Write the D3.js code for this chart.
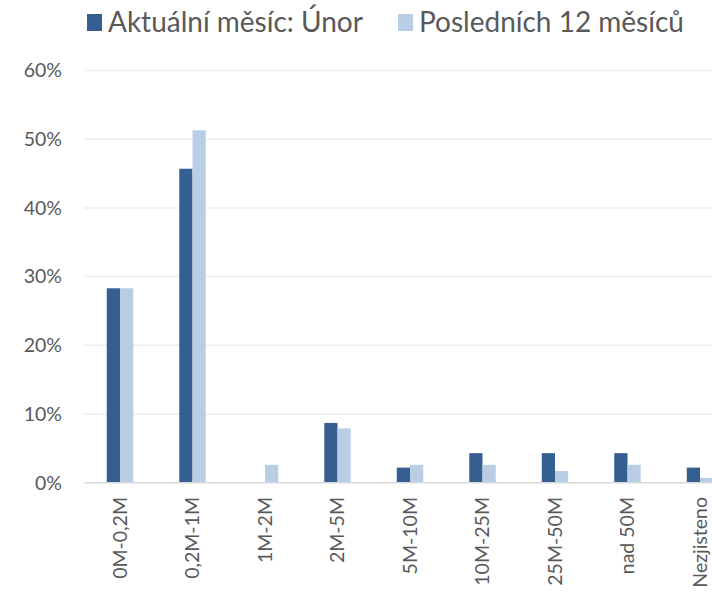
<!DOCTYPE html>
<html>
<head>
<meta charset="utf-8">
<script src="https://cdn.jsdelivr.net/npm/d3@7"></script>
<style>
  body { margin: 0; background: #fff; }
  svg { display: block; font-family: Lato, "Open Sans", sans-serif; }
</style>
</head>
<body>
<div id="chart"></div>
<script>
const categories = ['0M-0,2M', '0,2M-1M', '1M-2M', '2M-5M', '5M-10M', '10M-25M', '25M-50M', 'nad 50M', 'Nezjisteno'];
const currentMonth = [28.3, 45.7, 0, 8.7, 2.2, 4.3, 4.3, 4.3, 2.2];
const last12Months = [28.3, 51.3, 2.6, 7.9, 2.6, 2.6, 1.7, 2.6, 0.7];
const seriesNames = ['Aktuální měsíc: Únor', 'Posledních 12 měsíců'];
const yTicks = [0, 10, 20, 30, 40, 50, 60];

const width = 712;
const height = 593;
const colors = ['#365f91', '#b9cde5'];

const plot = { left: 83.75, right: 736.25, top: 70.5, bottom: 482.7 };

const svg = d3.select('#chart')
  .append('svg')
  .attr('width', width)
  .attr('height', height);

const x0 = d3.scaleBand()
  .domain(categories)
  .range([plot.left, plot.right])
  .paddingInner(0.635)
  .paddingOuter(0.3175);

const x1 = d3.scaleBand()
  .domain([0, 1])
  .range([0, x0.bandwidth()]);

const y = d3.scaleLinear()
  .domain([0, 60])
  .range([plot.bottom, plot.top]);

// gridlines
svg.append('g')
  .selectAll('line')
  .data(yTicks.filter(d => d > 0))
  .join('line')
  .attr('x1', plot.left)
  .attr('x2', plot.right)
  .attr('y1', d => y(d))
  .attr('y2', d => y(d))
  .attr('stroke', '#eeeeee')
  .attr('stroke-width', 1.5);

// y labels
svg.append('g')
  .selectAll('text')
  .data(yTicks)
  .join('text')
  .attr('x', 62)
  .attr('y', d => y(d))
  .attr('dy', '0.35em')
  .attr('text-anchor', 'end')
  .attr('fill', '#595959')
  .attr('font-size', 19.5)
  .text(d => d + '%');

// bars
const rows = categories.map((c, i) => ({ cat: c, vals: [currentMonth[i], last12Months[i]] }));
svg.append('g')
  .selectAll('g')
  .data(rows)
  .join('g')
  .attr('transform', d => `translate(${x0(d.cat)},0)`)
  .selectAll('rect')
  .data(d => d.vals.map((v, k) => ({ k, v })))
  .join('rect')
  .attr('x', d => x1(d.k))
  .attr('width', x1.bandwidth())
  .attr('y', d => y(d.v))
  .attr('height', d => y(0) - y(d.v))
  .attr('fill', d => colors[d.k]);

// baseline
svg.append('line')
  .attr('x1', plot.left)
  .attr('x2', plot.right)
  .attr('y1', y(0))
  .attr('y2', y(0))
  .attr('stroke', '#d9d9d9')
  .attr('stroke-width', 1.5);

// x labels, rotated
svg.append('g')
  .selectAll('text')
  .data(categories)
  .join('text')
  .attr('transform', d => `translate(${x0(d) + x0.bandwidth() / 2},497) rotate(-90)`)
  .attr('dy', '0.35em')
  .attr('text-anchor', 'end')
  .attr('fill', '#595959')
  .attr('font-size', 19.5)
  .text(d => d);

// legend
const legend = svg.append('g');
const legendX = [87, 398];
seriesNames.forEach((name, i) => {
  legend.append('rect')
    .attr('x', legendX[i])
    .attr('y', 14)
    .attr('width', 15)
    .attr('height', 17)
    .attr('fill', colors[i]);
  legend.append('text')
    .attr('x', legendX[i] + 21)
    .attr('y', 22)
    .attr('dy', '0.35em')
    .attr('fill', '#595959')
    .attr('font-size', 28)
    .text(name);
});
</script>
</body>
</html>
